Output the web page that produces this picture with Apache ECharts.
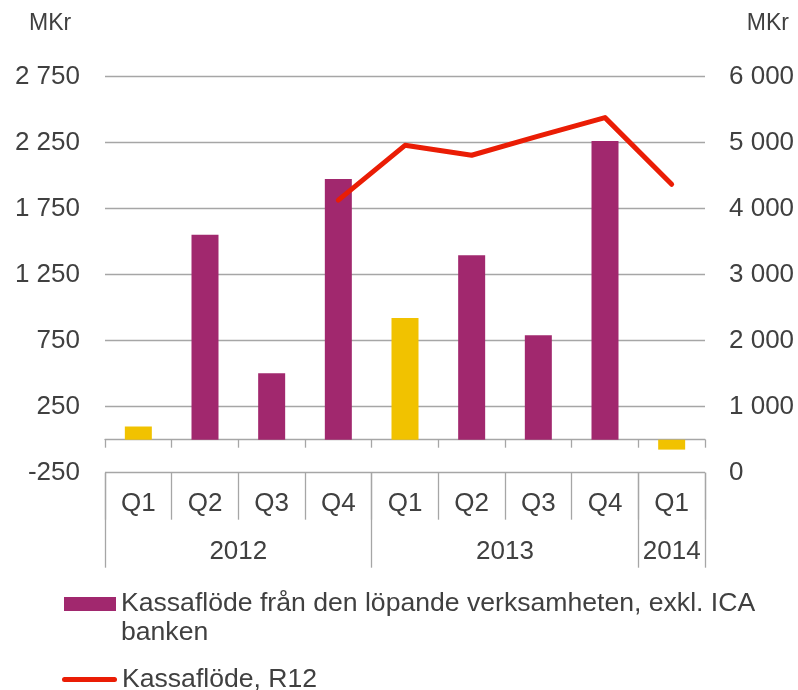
<!DOCTYPE html>
<html><head><meta charset="utf-8">
<script src="https://cdn.jsdelivr.net/npm/echarts@6/dist/echarts.min.js"></script>
<style>html,body{margin:0;padding:0;background:#fff}#c{width:798px;height:690px}</style>
</head><body><div id="c"></div>
<script>
// ---- data ----
const quarters = ['Q1','Q2','Q3','Q4','Q1','Q2','Q3','Q4','Q1'];
const years = ['2012','2013','2014'];
const yearSpans = [4,4,1];
const cashFlow = [100,1553,503,1975,922,1397,791,2262,-75];
const r12 = [null,null,null,4130,4960,4810,5100,5380,4370];
const leftTicks = [-250,250,750,1250,1750,2250,2750];
const rightTicks = [0,1000,2000,3000,4000,5000,6000];
const barName = 'Kassaflöde från den löpande verksamheten, exkl. ICA banken';
const lineName = 'Kassaflöde, R12';
const unit = 'MKr';

// ---- derived ----
const yearBounds = [0];
const yearCenters = [];
yearSpans.forEach((s,i)=>{ yearCenters.push(yearBounds[i] + s/2); yearBounds.push(yearBounds[i] + s); });
const fmt = v => String(v).replace(/\B(?=(\d{3})+(?!\d))/g, ' ');

const FONT = "'Liberation Sans', Arial, sans-serif";
const TXT = '#404040';
const GRID = '#a6a6a6';
const PURPLE = '#A1286E';
const YELLOW = '#F1C200';
const RED = '#EA1D05';

const chart = echarts.init(document.getElementById('c'), null, {renderer:'canvas'});
chart.setOption({
  animation: false,
  textStyle: {fontFamily: FONT},
  title: [
    {text: unit, left: 29, top: 12, padding: 0, textStyle: {fontSize: 23, fontWeight: 'normal', color: TXT, fontFamily: FONT}},
    {text: unit, right: 9, top: 12, padding: 0, textStyle: {fontSize: 23, fontWeight: 'normal', color: TXT, fontFamily: FONT}}
  ],
  grid: {left: 105, right: 93, top: 76.7, bottom: 217.3},
  legend: [
    {data: [barName], left: 64, top: 560.5, padding: 0, orient: 'vertical', icon: 'rect',
     itemWidth: 52, itemHeight: 14, selectedMode: false,
     formatter: name => '\n' + name,
     textStyle: {fontSize: 26.6, color: TXT, fontFamily: FONT, width: 700, overflow: 'break', lineHeight: 29}},
    {data: [{name: lineName, icon: 'path://M2.5,0 L52.5,0 A2.5,2.5 0 0 1 52.5,5 L2.5,5 A2.5,2.5 0 0 1 2.5,0 Z'}],
     left: 62, top: 665, padding: 0, orient: 'vertical',
     itemWidth: 55, itemHeight: 5, selectedMode: false,
     textStyle: {fontSize: 26.6, color: TXT, fontFamily: FONT, lineHeight: 29}}
  ],
  xAxis: [
    {type: 'category', data: quarters, boundaryGap: true,
     axisLine: {show: true, onZero: true, onZeroAxisIndex: 0, lineStyle: {color: GRID, width: 1.3}},
     axisTick: {show: true, interval: 0, length: 8, lineStyle: {color: GRID, width: 1.3}},
     axisLabel: {interval: 0, margin: 18, fontSize: 26, color: TXT, fontFamily: FONT},
     splitLine: {show: false}},
    {type: 'category', data: quarters, boundaryGap: true, position: 'bottom',
     axisLine: {show: false, onZero: false},
     axisTick: {show: true, interval: 0, length: 47, lineStyle: {color: GRID, width: 1.3}},
     axisLabel: {show: false}, splitLine: {show: false}},
    {type: 'value', min: 0, max: yearBounds[yearBounds.length-1], position: 'bottom',
     axisLine: {show: false, onZero: false},
     axisTick: {show: true, customValues: yearBounds, length: 95, lineStyle: {color: GRID, width: 1.3}},
     axisLabel: {customValues: yearCenters, margin: 66, fontSize: 26, color: TXT, fontFamily: FONT,
       formatter: v => { const i = yearCenters.indexOf(v); return i >= 0 ? years[i] : ''; }},
     splitLine: {show: false}}
  ],
  yAxis: [
    {type: 'value', min: leftTicks[0], max: leftTicks[leftTicks.length-1], interval: 250, position: 'left',
     axisLine: {show: false, onZero: false}, axisTick: {show: false}, splitLine: {show: false},
     axisLabel: {margin: 25, fontSize: 26, color: TXT, fontFamily: FONT,
       formatter: v => leftTicks.includes(v) ? fmt(v) : ''}},
    {type: 'value', min: rightTicks[0], max: rightTicks[rightTicks.length-1], interval: 1000, position: 'right',
     axisLine: {show: false, onZero: false}, axisTick: {show: false},
     splitLine: {show: true, lineStyle: {color: GRID, width: 1.3}},
     axisLabel: {margin: 24, fontSize: 26, color: TXT, fontFamily: FONT, formatter: v => fmt(v)}}
  ],
  series: [
    {name: barName, type: 'bar', xAxisIndex: 0, yAxisIndex: 0, barWidth: 27,
     itemStyle: {color: PURPLE},
     data: cashFlow.map((v,i) => quarters[i] === 'Q1' ? {value: v, itemStyle: {color: YELLOW}} : v)},
    {name: lineName, type: 'line', xAxisIndex: 0, yAxisIndex: 1, symbol: 'none', showSymbol: false,
     lineStyle: {color: RED, width: 5, cap: 'round', join: 'round'}, itemStyle: {color: RED},
     data: r12}
  ]
});
</script></body></html>
